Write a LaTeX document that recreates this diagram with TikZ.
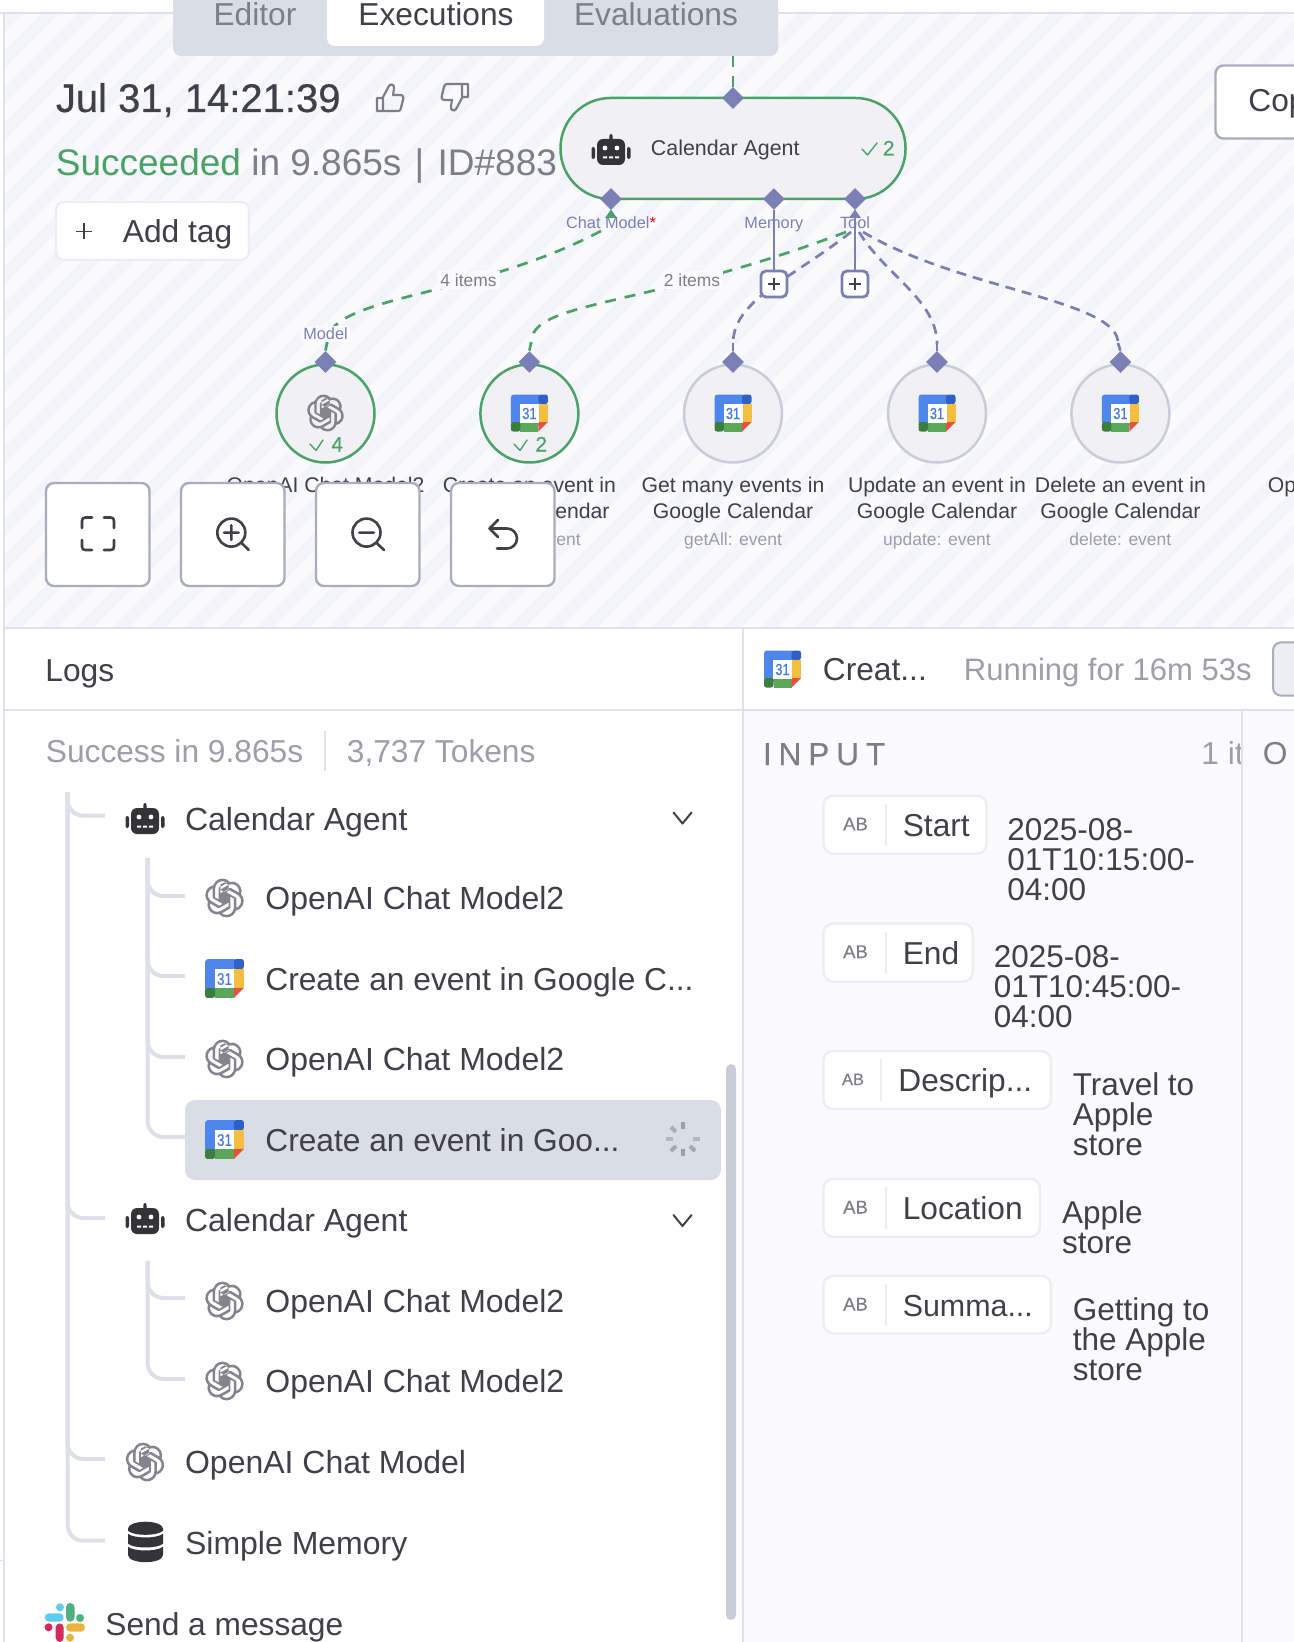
\documentclass[tikz,border=0pt]{standalone}
\usepackage{fontspec}
\setmainfont{Liberation Sans}
\newfontfamily\medfont[FakeBold=0.5]{Liberation Sans}
\newfontfamily\semifont[FakeBold=0.2]{Liberation Sans}
\usetikzlibrary{shapes.geometric,svg.path}
\definecolor{ink}{HTML}{3F4048}
\definecolor{icondark}{HTML}{333338}
\definecolor{midgray}{HTML}{7C7E88}
\definecolor{softgray}{HTML}{9C9EA8}
\definecolor{okgreen}{HTML}{4AA366}
\definecolor{port}{HTML}{7A7FB5}
\definecolor{edgeline}{HTML}{DFE2EC}
\definecolor{canvasbg}{HTML}{FBFBFE}
\definecolor{stripe}{HTML}{F4F5FA}
\definecolor{tabbar}{HTML}{D9DDE6}
\definecolor{nodefill}{HTML}{F1F0F4}
\definecolor{idleline}{HTML}{C9CDD8}
\definecolor{btnline}{HTML}{A8ADBD}
\definecolor{treeline}{HTML}{DDE0E9}
\definecolor{fieldline}{HTML}{ECEEF4}
\newcommand\fpx[1]{\fontsize{\fpeval{#1/2}pt}{\fpeval{#1/2*1.2}pt}\selectfont}
\newcommand\fpxl[2]{\fontsize{\fpeval{#1/2}pt}{\fpeval{#2/2}pt}\selectfont}
\tikzset{
  txt/.style={inner sep=0pt,anchor=base west,text=ink,font=\fpx{32}},
  mid/.style={inner sep=0pt,anchor=base,text=ink,font=\fpx{31.7}},
  soft/.style={text=softgray},
  portd/.style={diamond,aspect=1,fill=port,inner sep=0pt,minimum size=11pt},
  portlab/.style={inner sep=0pt,anchor=base,text=port,font=\fpx{16.3}},
  itemlab/.style={inner sep=1.5pt,anchor=center,text=midgray,font=\fpx{17.4},fill=canvasbg},
  okcircle/.style={circle,draw=okgreen,fill=nodefill,line width=1.25pt,minimum size=49pt,inner sep=0pt},
  idlecircle/.style={circle,draw=idleline,fill=nodefill,line width=1.25pt,minimum size=49pt,inner sep=0pt},
  dashok/.style={draw=okgreen,line width=1.35pt,dash pattern=on 5.5pt off 4.5pt},
  dashport/.style={draw=port,line width=1.35pt,dash pattern=on 5pt off 3.5pt},
  solidport/.style={draw=port,line width=1.35pt},
  plusbox/.style={rectangle,draw=port,fill=white,line width=1.4pt,rounded corners=2.5pt,minimum size=13pt,inner sep=0pt},
  iconline/.style={draw=ink,line width=1.3pt,line cap=round,line join=round},
  btn/.style={draw=btnline,fill=white,line width=1.2pt,rounded corners=4pt},
  tree/.style={draw=treeline,line width=2pt,rounded corners=8pt},
  fieldbox/.style={draw=fieldline,fill=white,line width=1.2pt,rounded corners=5pt},
  fielddiv/.style={draw=fieldline,line width=1.2pt},
  okcheck/.style={draw=okgreen,line width=.7pt,line cap=round,line join=round},
  nodelabel/.style={inner sep=0pt,anchor=north,align=center,text=ink,font=\fpxl{21.2}{25.4}},
  nodesub/.style={inner sep=0pt,anchor=base,text=softgray,font=\fpx{17.5}},
  valtext/.style={inner sep=0pt,anchor=north west,align=left,text=ink,font=\fpxl{31.5}{30}},
  abtag/.style={inner sep=0pt,anchor=base,text=midgray,font=\semifont\fpx{18.5}},
  oai/.pic={
    \fill[fill=midgray!95,cm={.77,0,0,-.77,(-9.24pt,9.24pt)}] svg {M 22.2819 9.8211 a 5.9847 5.9847 0 0 0 -0.5157 -4.9108 6.0462 6.0462 0 0 0 -6.5098 -2.9 A 6.0651 6.0651 0 0 0 4.9807 4.1818 a 5.9847 5.9847 0 0 0 -3.9977 2.9 6.0462 6.0462 0 0 0 0.7427 7.0966 5.98 5.98 0 0 0 0.511 4.9107 6.051 6.051 0 0 0 6.5146 2.9001 A 5.9847 5.9847 0 0 0 13.2599 24 a 6.0557 6.0557 0 0 0 5.7718 -4.2058 5.9894 5.9894 0 0 0 3.9977 -2.9001 6.0557 6.0557 0 0 0 -0.7475 -7.0729 z m -9.022 12.6081 a 4.4755 4.4755 0 0 1 -2.8764 -1.0408 l 0.1419 -0.0804 4.7783 -2.7582 a 0.7948 0.7948 0 0 0 0.3927 -0.6813 v -6.7369 l 2.02 1.1686 a 0.071 0.071 0 0 1 0.038 0.052 v 5.5826 a 4.504 4.504 0 0 1 -4.4945 4.4944 z m -9.6607 -4.1254 a 4.4708 4.4708 0 0 1 -0.5346 -3.0137 l 0.142 0.0852 4.783 2.7582 a 0.7712 0.7712 0 0 0 0.7806 0 l 5.8428 -3.3685 v 2.3324 a 0.0804 0.0804 0 0 1 -0.0332 0.0615 L 9.74 19.9502 a 4.4992 4.4992 0 0 1 -6.1408 -1.6464 z M 2.3408 7.8956 a 4.485 4.485 0 0 1 2.3655 -1.9728 V 11.6 a 0.7664 0.7664 0 0 0 0.3879 0.6765 l 5.8144 3.3543 -2.0201 1.1685 a 0.0757 0.0757 0 0 1 -0.071 0 l -4.8303 -2.7865 A 4.504 4.504 0 0 1 2.3408 7.872 z m 16.5963 3.8558 L 13.1038 8.364 15.1192 7.2 a 0.0757 0.0757 0 0 1 0.071 0 l 4.8303 2.7913 a 4.4944 4.4944 0 0 1 -0.6765 8.1042 v -5.6772 a 0.79 0.79 0 0 0 -0.407 -0.667 z m 2.0107 -3.0231 l -0.142 -0.0852 -4.7735 -2.7818 a 0.7759 0.7759 0 0 0 -0.7854 0 L 9.409 9.2297 V 6.8974 a 0.0662 0.0662 0 0 1 0.0284 -0.0615 l 4.8303 -2.7866 a 4.4992 4.4992 0 0 1 6.6802 4.66 z M 8.3065 12.863 l -2.02 -1.1638 a 0.0804 0.0804 0 0 1 -0.038 -0.0567 V 6.0742 a 4.4992 4.4992 0 0 1 7.3757 -3.4537 l -0.142 0.0805 L 8.704 5.459 a 0.7948 0.7948 0 0 0 -0.3927 0.6813 z m 1.0976 -2.3654 l 2.602 -1.4998 2.6069 1.4998 v 2.9994 l -2.5974 1.4997 -2.6067 -1.4997 Z};
  },
  gcal/.pic={
    \fill[rounded corners=1.5pt,fill={rgb,255:red,79;green,134;blue,236}] (-18.5,-18.5) rectangle (12,12);
    \fill[fill={rgb,255:red,47;green,95;blue,201},rounded corners=1.2pt] (9,-18.5) rectangle (18.5,-9);
    \fill[fill={rgb,255:red,244;green,191;blue,63}] (9,-9) rectangle (18.5,9);
    \fill[fill={rgb,255:red,90;green,168;blue,90}] (-9,9) rectangle (9,18.5);
    \fill[fill={rgb,255:red,59;green,125;blue,63},rounded corners=1.2pt] (-18.5,9) rectangle (-9,18.5);
    \fill[fill={rgb,255:red,229;green,83;blue,61}] (9,18.5) -- (9,9) -- (18.5,9) -- cycle;
    \fill[fill=white] (-9.5,-9.5) rectangle (9.5,9.5);
    \node[transform shape,xscale=.8,inner sep=0pt,text={rgb,255:red,66;green,120;blue,226},font=\semifont\fpx{16}] at (0,0.5) {31};
  },
  robot/.pic={
    \fill[fill=icondark,rounded corners=3pt] (-14,-11) rectangle (14,15);
    \fill[fill=icondark,rounded corners=1pt] (-1.6,-16) rectangle (1.6,-9);
    \fill[fill=icondark,rounded corners=1pt] (-19.5,-3) rectangle (-16,9);
    \fill[fill=icondark,rounded corners=1pt] (16,-3) rectangle (19.5,9);
    \fill[fill=white] (-6,-2) circle[radius=2.4] (6,-2) circle[radius=2.4];
    \fill[fill=white] (-8,6.5) rectangle (-4,8.5) (-2,6.5) rectangle (2,8.5) (4,6.5) rectangle (8,8.5);
  },
  thumb/.pic={
    \draw[draw=midgray,line width=1.1pt,line join=round,line cap=round]
      (-7,-1) -- (-1,-12) .. controls (0,-14.5) and (5,-14) .. (4,-9) -- (3,-3) -- (10,-3)
      .. controls (13,-3) and (14,-1) .. (13,2) -- (11,10) .. controls (10.5,12) and (10,13) .. (8,13) -- (-7,13) -- cycle
      (-7,0) -- (-13,0) -- (-13,13) -- (-7,13);
  },
  chevron/.pic={
    \draw[draw=ink,line width=1pt,line cap=round,line join=round] (-9,-5) -- (0,6) -- (9,-5);
  },
  database/.pic={
    \fill[fill=icondark] (-17.5,-13) arc[x radius=17.5,y radius=7,start angle=180,end angle=360] -- (17.5,-11) .. controls (12,-5.5) and (-12,-5.5) .. (-17.5,-11) -- cycle;
    \fill[fill=icondark] (-17.5,-8) .. controls (-12,-3) and (12,-3) .. (17.5,-8) -- (17.5,2) .. controls (12,7) and (-12,7) .. (-17.5,2) -- cycle;
    \fill[fill=icondark] (-17.5,5) .. controls (-12,10) and (12,10) .. (17.5,5) -- (17.5,13) .. controls (17.5,23) and (-17.5,23) .. (-17.5,13) -- cycle;
  }
}
\begin{document}
\begin{tikzpicture}[x=0.5pt,y=-0.5pt]
\useasboundingbox (0,0) rectangle (1294,1642);
\fill[white] (0,0) rectangle (1294,1642);
% canvas
\fill[canvasbg] (4,13) rectangle (1294,628);
\begin{scope}
  \clip (4,13) rectangle (1294,628);
  \foreach \i in {-22,...,60}{
    \draw[stripe,line width=6.3pt] (\i*36,640) -- ++(660,-660);
  }
\end{scope}
\fill[canvasbg] (743,710) rectangle (1294,1642);
\draw[edgeline,line width=1pt] (0,13) -- (1294,13);
\draw[edgeline,line width=1pt] (4,13) -- (4,1642);
\draw[edgeline,line width=1pt] (4,628) -- (1294,628);
\draw[edgeline,line width=1pt] (4,710) -- (1294,710);
\draw[edgeline,line width=1pt] (742.6,628) -- (742.6,1642);
\draw[edgeline,line width=1pt] (1242,710) -- (1242,1642);
\draw[edgeline,line width=.5pt] (0,1560) -- (4,1560);

% nodes of the flow
\node[okcircle] (nA) at (325.5,413.5) {};
\node[okcircle] (nB) at (529.4,413.5) {};
\node[idlecircle] (nC) at (733,413.5) {};
\node[idlecircle] (nD) at (937,413.5) {};
\node[idlecircle] (nE) at (1120.4,413.5) {};
\node[portd] (dA) at (325.5,362) {};
\node[portd] (dB) at (529.4,362) {};
\node[portd] (dC) at (733,362) {};
\node[portd] (dD) at (937,362) {};
\node[portd] (dE) at (1120.4,362) {};
\node[rectangle,draw=okgreen,fill=nodefill,line width=1.25pt,rounded corners=25pt,minimum width=172.5pt,minimum height=50.5pt,inner sep=0pt] (agent) at (733,148.5) {};
\node[portd] (pTop) at (733,98) {};
\node[portd] (pChat) at (611,199) {};
\node[portd] (pMem) at (773.9,199) {};
\node[portd] (pTool) at (855,199) {};
\fill[okgreen] (605,218) -- (611,209.5) -- (617,218) -- cycle;
\fill[port] (849,218) -- (855,209.5) -- (861,218) -- cycle;
\coordinate (cChat) at (601,231);
\coordinate (tG) at (846,232);
\coordinate (tC) at (851,232);
\coordinate (tD) at (859,232);
\coordinate (tE) at (863,232);
\coordinate (tabEnd) at (733,56);
\draw[dashok] (tabEnd) -- (pTop.north);
\draw[dashok] (cChat) .. controls (470,300) and (325.5,295) .. (327,344);
\draw[okgreen,line width=1.35pt] (327,343) -- (dA.north);
\draw[dashok] (tG) .. controls (640,310) and (529.4,300) .. (531,344);
\draw[okgreen,line width=1.35pt] (531,343) -- (dB.north);
\draw[dashport] (tC) .. controls (790,280) and (733,300) .. (733,344);
\draw[solidport] (733,343) -- (dC.north);
\draw[dashport] (tD) .. controls (885,275) and (937,300) .. (937,344);
\draw[solidport] (937,343) -- (dD.north);
\draw[dashport] (tE) .. controls (960,290) and (1120.4,300) .. (1118,344);
\draw[solidport] (1118,343) -- (dE.north);
\node[itemlab] (lab4) at (468.5,280) {4 items};
\node[itemlab] (lab2) at (692,280) {2 items};
\node[plusbox] (pm) at (773.9,284) {};
\node[plusbox] (pt) at (855,284) {};
\draw[solidport] (pMem.south) -- (pm.north);
\draw[solidport] (pTool.south) -- (pt.north);
\draw[draw=ink,line width=.6pt] (768,284) -- (779.8,284) (773.9,278) -- (773.9,290);
\draw[draw=ink,line width=.6pt] (849,284) -- (861,284) (855,278) -- (855,290);

\fill[tabbar,rounded corners=4pt] (173,-20) rectangle (778,56);
\fill[white,rounded corners=4pt] (327,-20) rectangle (544,46);
\node[mid,text=midgray] (tab1) at (255,26) {Editor};
\node[mid] (tab2) at (436,26) {Executions};
\node[mid,text=midgray] (tab3) at (656,26) {Evaluations};

\node[txt,font=\medfont\fpx{40}] (title) at (55.5,112) {Jul 31, 14:21:39};
\pic at (390,98) {thumb};
\pic[rotate=180] at (455,97) {thumb};
\node[txt,font=\fpx{37},text=midgray] (status) at (55.5,175.7) {\textcolor{okgreen}{Succeeded} in 9.865s\hspace{1.5pt} | \hspace{1.5pt}ID\#883};
\node[draw=fieldline,fill=white,line width=1.2pt,rounded corners=4pt,minimum width=96.5pt,minimum height=29pt,inner sep=0pt] (tagbox) at (152.5,231) {};
\draw[draw=ink,line width=.6pt] (76,231.5) -- (92,231.5) (84,223.5) -- (84,239.5);
\node[txt,font=\fpx{31.7}] (tagtext) at (122.5,243) {Add tag};

% agent content
\pic at (611,150) {robot};
\node[txt,font=\fpx{21.4}] (agentname) at (650.5,156) {Calendar Agent};
\draw[okcheck] (862,149) -- (867.5,155) -- (877,143);
\node[txt,text=okgreen,font=\semifont\fpx{21}] (agentcount) at (882.5,155.5) {2};
\node[portlab] (lChat) at (611,228.6) {Chat Model\textcolor{red}{*}};
\node[portlab] (lMem) at (773.9,228.6) {Memory};
\node[portlab] (lTool) at (855,228.6) {Tool};
\node[portlab,fill=canvasbg,inner sep=1pt] (lModel) at (325.5,340) {Model};

% lower node content
\pic at (325.5,413) {oai};
\pic at (529.4,413) {gcal};
\pic at (733,413) {gcal};
\pic at (937,413) {gcal};
\pic at (1120.4,413) {gcal};
\draw[okcheck] (310,444) -- (316,450.5) -- (323,440);
\node[txt,text=okgreen,font=\semifont\fpx{21}] (cntA) at (331,451.5) {4};
\draw[okcheck] (514,444) -- (520,450.5) -- (527,440);
\node[txt,text=okgreen,font=\semifont\fpx{21}] (cntB) at (535,451.5) {2};
\node[nodelabel] (tA) at (325.5,477) {OpenAI Chat Model2};
\node[nodelabel] (tB) at (529.4,477) {Create an event in\\Google Calendar};
\node[nodesub] (sB) at (529.4,545) {create: event};
\node[nodelabel] (tC) at (733,477) {Get many events in\\Google Calendar};
\node[nodesub] (sC) at (733,545) {getAll: event};
\node[nodelabel] (tD) at (937,477) {Update an event in\\Google Calendar};
\node[nodesub] (sD) at (937,545) {update: event};
\node[nodelabel] (tE) at (1120.4,477) {Delete an event in\\Google Calendar};
\node[nodesub] (sE) at (1120.4,545) {delete: event};
\node[txt,font=\fpx{21.2}] (tOp) at (1267.5,492.6) {Op};
\draw[btn] (1215.5,65.5) rectangle (1320,138.5);
\node[txt,font=\fpx{31.7}] (copy) at (1248,112) {Cop};

% view buttons
\draw[btn] (46,483) rectangle (149.5,586);
\draw[btn] (181,483) rectangle (284.5,586);
\draw[btn] (316,483) rectangle (419.5,586);
\draw[btn] (451,483) rectangle (554.5,586);
\draw[iconline] (82,528) -- (82,521) .. controls (82,518.5) and (83,517.5) .. (85.5,517.5) -- (92,517.5)
  (104,517.5) -- (110.5,517.5) .. controls (113,517.5) and (114,518.5) .. (114,521) -- (114,528)
  (114,540) -- (114,546.5) .. controls (114,549) and (113,550) .. (110.5,550) -- (104,550)
  (92,550) -- (85.5,550) .. controls (83,550) and (82,549) .. (82,546.5) -- (82,540);
\draw[iconline] (231.3,532.6) circle[radius=14] (241.5,543) -- (248.8,550) (224,532.6) -- (238.6,532.6) (231.3,525.3) -- (231.3,539.9);
\draw[iconline] (366.5,532.6) circle[radius=14] (376.7,543) -- (384,550) (359.2,532.6) -- (373.8,532.6);
\draw[iconline] (498,520) -- (489.5,528.5) -- (498,537) (489.5,528.5) -- (507,528.5) arc[start angle=-90,end angle=90,radius=10] -- (497,548.5);

% log panel
\node[txt,font=\fpx{31.7}] (logs) at (45,681) {Logs};
\node[txt,soft,font=\fpx{31.7}] (succ) at (45.5,762) {Success in 9.865s};
\draw[edgeline,line width=.9pt] (325,731) -- (325,771);
\node[txt,soft,font=\fpx{31.7}] (tokens) at (346.5,762) {3,737 Tokens};
\foreach \y in {815.7,1218,1459,1540.7}{
  \draw[tree] (67.5,792) -- (67.5,\y) -- (105,\y);
}
\foreach \y in {896,976,1057,1137}{
  \draw[tree] (147.6,858) -- (147.6,\y) -- (185,\y);
}
\foreach \y in {1298,1379}{
  \draw[tree] (147.6,1261) -- (147.6,\y) -- (185,\y);
}
\fill[tabbar,rounded corners=5pt] (185,1100) rectangle (721,1180);
\fill[idleline,rounded corners=2.5pt] (726,1064) rectangle (736,1620);

\pic at (145,819) {robot};
\node[txt] (r1) at (184.7,830.5) {Calendar Agent};
\pic at (682.5,817.5) {chevron};
\pic[scale=1.05] at (224.5,898) {oai};
\node[txt] (r2) at (265,909.3) {OpenAI Chat Model2};
\pic[scale=1.05] at (224.5,978.5) {gcal};
\node[txt,font=\fpx{31.7}] (r3) at (265,990) {Create an event in Google C...};
\pic[scale=1.05] at (224.5,1059) {oai};
\node[txt] (r4) at (265,1070) {OpenAI Chat Model2};
\pic[scale=1.05] at (224.5,1139.5) {gcal};
\node[txt,font=\fpx{31.7}] (r5) at (265,1151) {Create an event in Goo...};
\foreach \a/\s in {90/100,135/75,180/60,225/85,270/100,315/85,0/60}{
  \draw[softgray!\s!tabbar,line width=2.1pt,rotate around={\a:(683,1139)}] (693,1139) -- (700,1139);
}
\pic at (145,1219) {robot};
\node[txt] (r6) at (184.7,1231) {Calendar Agent};
\pic at (682.5,1220) {chevron};
\pic[scale=1.05] at (224.5,1301) {oai};
\node[txt] (r7) at (265,1312.7) {OpenAI Chat Model2};
\pic[scale=1.05] at (224.5,1381) {oai};
\node[txt] (r8) at (265,1392.7) {OpenAI Chat Model2};
\pic[scale=1.05] at (145,1462) {oai};
\node[txt] (r9) at (184.7,1473.7) {OpenAI Chat Model};
\pic at (145.5,1541.7) {database};
\node[txt] (r10) at (184.7,1554.3) {Simple Memory};
% slack
\fill[fill={rgb,255:red,94;green,203;blue,240},rounded corners=2.1pt] (44.8,1613.3) rectangle (63.7,1621.7);
\fill[fill={rgb,255:red,94;green,203;blue,240}] (60,1607.3) circle[radius=4];
\fill[fill={rgb,255:red,74;green,178;blue,130},rounded corners=2.1pt] (66,1603) rectangle (74.5,1621.7);
\fill[fill={rgb,255:red,74;green,178;blue,130}] (80,1618) circle[radius=4];
\fill[fill={rgb,255:red,232;green,180;blue,60},rounded corners=2.1pt] (66,1623.3) rectangle (85,1631.7);
\fill[fill={rgb,255:red,232;green,180;blue,60}] (70,1637.7) circle[radius=4];
\fill[fill={rgb,255:red,214;green,40;blue,90},rounded corners=2.1pt] (55.7,1623.3) rectangle (63.7,1642);
\fill[fill={rgb,255:red,214;green,40;blue,90}] (48.6,1627.3) circle[radius=4];
\node[txt,font=\fpx{31.7}] (r11) at (105,1635.3) {Send a message};

% detail panel
\pic at (782.5,669) {gcal};
\node[txt,font=\fpx{31.7}] (dtitle) at (822.5,680.7) {Creat...};
\node[txt,soft,font=\fpx{31}] (drun) at (963.5,680.7) {Running for 16m 53s};
\draw[draw=btnline,fill=fieldline,line width=1pt,rounded corners=4pt] (1273,642.4) rectangle (1320,695.6);
\node[txt,text=midgray,font=\semifont\fpx{31.7}] (dinput) at (762.5,765) {I\hspace{3.4pt}N\hspace{3.4pt}P\hspace{3.4pt}U\hspace{3.4pt}T};
\begin{scope}
\clip (1190,730) rectangle (1240,780);
\node[txt,soft,font=\fpx{31.7}] (ditems) at (1201,764.3) {1 item};
\end{scope}
\node[txt,text=midgray,font=\fpx{31.7}] (doutput) at (1262.5,764.3) {O};

\draw[fieldbox] (823.5,795.6) rectangle (986.5,853.8);
\draw[fielddiv] (885.8,804) -- (885.8,846);
\node[abtag] (ab1) at (855.5,830.4) {AB};
\node[txt,font=\fpx{31.7}] (f1) at (902.4,836.4) {Start};
\node[valtext] (v1) at (1007,818) {2025-08-\\01T10:15:00-\\04:00};

\draw[fieldbox] (823.5,923.5) rectangle (972.8,981.7);
\draw[fielddiv] (885.8,932) -- (885.8,974);
\node[abtag] (ab2) at (855.5,958) {AB};
\node[txt,font=\fpx{31.7}] (f2) at (902.4,964.3) {End};
\node[valtext] (v2) at (993.4,945.5) {2025-08-\\01T10:45:00-\\04:00};

\draw[fieldbox] (823.5,1051) rectangle (1051,1109);
\draw[fielddiv] (881,1059) -- (881,1101);
\node[abtag,font=\semifont\fpx{16.5}] (ab3) at (853,1085) {AB};
\node[txt,font=\fpx{31.7}] (f3) at (898,1091.6) {Descrip...};
\node[valtext] (v3) at (1072.5,1072.7) {Travel to\\Apple\\store};

\draw[fieldbox] (823.5,1178.7) rectangle (1040,1236.9);
\draw[fielddiv] (885.8,1187) -- (885.8,1229);
\node[abtag] (ab4) at (855.5,1213.5) {AB};
\node[txt,font=\fpx{31.7}] (f4) at (902.4,1219.5) {Location};
\node[valtext] (v4) at (1061.7,1200.7) {Apple\\store};

\draw[fieldbox] (823.5,1275.7) rectangle (1051,1333.5);
\draw[fielddiv] (885.8,1284) -- (885.8,1326);
\node[abtag] (ab5) at (855.5,1310.5) {AB};
\node[txt,font=\fpx{30.4}] (f5) at (902.4,1316.5) {Summa...};
\node[valtext] (v5) at (1072.5,1297.7) {Getting to\\the Apple\\store};
\end{tikzpicture}
\end{document}
